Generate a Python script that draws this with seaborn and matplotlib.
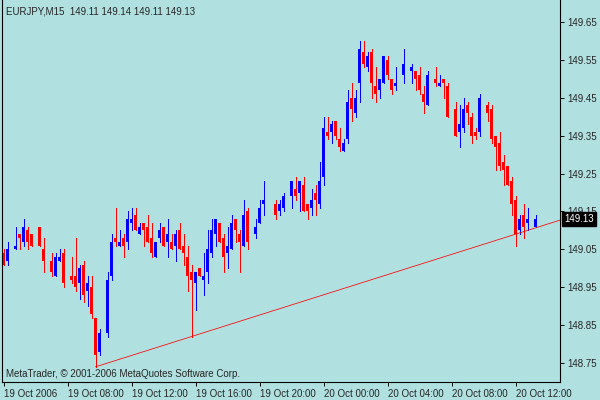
import numpy as np
import pandas as pd
import matplotlib
matplotlib.use("Agg")
import matplotlib.pyplot as plt
import seaborn as sns

# EURJPY M15, one bar every 15 minutes from 19 Oct 2006 04:00
symbol = "EURJPY,M15"
start_time = "2006-10-19 04:00"
nan = np.nan

opens = [149.04, 149.02, nan, 149.05, 149.09, 149.07, 149.10, 149.09, nan, 149.11,
         149.05, nan, 149.02, 148.98, 149.02, 149.04, nan, 148.98, 148.98, 148.96,
         149.01, 148.94, 148.95, 148.87, 148.78, nan, 148.83, 148.98, 149.08, 149.06,
         149.08, 149.07, 149.12, 149.14, 149.09, 149.12, 149.11, 149.08, 149.03, 149.08,
         149.11, 149.07, 149.07, 149.06, 149.10, 149.06, 149.03, 148.99, 148.96, 149.00,
         148.97, 148.99, 149.04, 149.09, 149.12, 149.08, 149.04, 149.05, 149.13, 149.09,
         149.06, 149.15, nan, 149.09, 149.12, 149.17, nan, nan, 149.17, 149.15,
         149.16, nan, 149.19, 149.21, 149.20, 149.22, 149.17, 149.16, 149.20, 149.17,
         149.24, 149.36, 149.36, 149.39, 149.34, 149.31, 149.34, 149.45, 149.41, 149.49,
         149.57, 149.53, 149.57, 149.48, 149.47, 149.49, 149.55, 149.50, 149.48, nan,
         149.51, nan, 149.52, 149.52, 149.51, 149.46, 149.43, nan, 149.50, 149.48,
         149.50, 149.48, nan, 149.42, 149.36, 149.37, 149.43, 149.40, 149.36, 149.36,
         nan, 149.43, 149.42, 149.35, 149.33, 149.28, 149.27, 149.23, 149.18, 149.10,
         149.14, 149.12, nan, 149.11]
highs = [149.05, 149.07, nan, 149.11, 149.09, 149.13, 149.11, 149.09, nan, 149.11,
         149.08, nan, 149.04, 149.04, 149.05, 149.05, nan, 149.03, 149.08, 149.01,
         149.02, 148.98, 148.98, 148.87, 148.84, nan, 148.99, 149.09, 149.16, 149.10,
         149.09, 149.15, 149.16, 149.16, 149.12, 149.12, 149.14, 149.12, 149.07, 149.12,
         149.11, 149.13, 149.09, 149.10, 149.12, 149.09, 149.06, 149.01, 148.99, 149.00,
         149.04, 149.10, 149.13, 149.13, 149.12, 149.09, 149.11, 149.14, 149.13, 149.10,
         149.18, 149.16, nan, 149.13, 149.18, 149.23, nan, nan, 149.18, 149.18,
         149.20, nan, 149.23, 149.24, 149.23, 149.24, 149.17, 149.21, 149.22, 149.28,
         149.40, 149.40, 149.39, 149.39, 149.37, 149.34, 149.47, 149.49, 149.47, 149.60,
         149.60, 149.57, 149.58, 149.53, 149.50, 149.56, 149.56, 149.50, 149.53, nan,
         149.58, nan, 149.54, 149.52, 149.53, 149.48, 149.52, nan, 149.53, 149.51,
         149.50, 149.49, nan, 149.44, 149.43, 149.45, 149.44, 149.41, 149.37, 149.46,
         nan, 149.44, 149.43, 149.35, 149.36, 149.30, 149.27, 149.24, 149.19, 149.14,
         149.17, 149.16, nan, 149.14]
lows = [149.01, 149.01, nan, 149.05, 149.05, 149.06, 149.05, 149.06, nan, 149.06,
        148.99, nan, 148.98, 148.98, 149.02, 148.95, nan, 148.96, 148.94, 148.92,
        148.91, 148.90, 148.87, 148.74, 148.77, nan, 148.82, 148.97, 149.06, 149.06,
        149.03, 149.05, 149.10, 149.10, 149.09, 149.06, 149.07, 149.03, 149.03, 149.07,
        149.06, 149.03, 149.05, 149.02, 149.05, 149.01, 148.94, 148.82, 148.89, 148.98,
        148.93, 148.96, 149.03, 149.06, 149.07, 148.99, 149.00, 149.05, 149.07, 148.99,
        149.06, 149.05, nan, 149.08, 149.12, 149.14, nan, nan, 149.13, 149.14,
        149.15, nan, 149.16, 149.18, 149.15, 149.15, 149.13, 149.14, 149.14, 149.16,
        149.22, 149.34, 149.33, 149.34, 149.31, 149.31, 149.33, 149.39, 149.40, 149.44,
        149.53, 149.52, 149.45, 149.44, 149.45, 149.49, 149.50, 149.46, 149.47, nan,
        149.49, nan, 149.49, 149.47, 149.46, 149.41, 149.43, nan, 149.48, 149.48,
        149.45, 149.40, nan, 149.35, 149.32, 149.36, 149.38, 149.33, 149.34, 149.35,
        nan, 149.39, 149.33, 149.26, 149.26, 149.22, 149.22, 149.14, 149.06, 149.09,
        149.08, 149.10, nan, 149.11]
closes = [149.01, 149.05, nan, 149.06, 149.08, 149.11, 149.07, 149.06, nan, 149.06,
          149.02, nan, 148.99, 149.03, 149.03, 148.96, nan, 148.97, 148.95, 149.00,
          148.93, 148.96, 148.88, 148.77, 148.83, nan, 148.97, 149.07, 149.07, 149.07,
          149.06, 149.13, 149.13, 149.10, 149.11, 149.10, 149.07, 149.04, 149.07, 149.10,
          149.06, 149.09, 149.05, 149.09, 149.05, 149.04, 148.98, 148.97, 148.99, 148.98,
          148.98, 149.05, 149.10, 149.13, 149.07, 149.03, 149.06, 149.12, 149.10, 149.07,
          149.14, 149.07, nan, 149.11, 149.16, 149.18, nan, nan, 149.14, 149.17,
          149.19, nan, 149.23, 149.19, 149.23, 149.15, 149.15, 149.18, 149.18, 149.23,
          149.37, 149.35, 149.38, 149.35, 149.32, 149.33, 149.44, 149.42, 149.45, 149.58,
          149.54, 149.56, 149.49, 149.46, 149.50, 149.56, 149.51, 149.47, 149.49, nan,
          149.54, nan, 149.53, 149.50, 149.47, 149.44, 149.51, nan, 149.49, 149.49,
          149.49, 149.40, nan, 149.35, 149.38, 149.42, 149.41, 149.35, 149.35, 149.45,
          nan, 149.41, 149.34, 149.32, 149.27, 149.26, 149.22, 149.17, 149.09, 149.13,
          149.11, 149.13, nan, 149.13]

price_ticks = [148.75, 148.85, 148.95, 149.05, 149.15, 149.25, 149.35, 149.45, 149.55, 149.65]
label_every = 16          # one time label every 4 hours
trend_bars = [23, 47]     # trend line drawn through the lows of these two bars
copyright = "MetaTrader, \u00a9 2001-2006 MetaQuotes Software Corp."

bg = "#B0E0E0"
sns.set_style("ticks", {"axes.facecolor": bg, "figure.facecolor": bg,
                        "axes.edgecolor": "black"})
plt.rcParams["font.family"] = ["Liberation Sans", "DejaVu Sans"]
plt.rcParams["font.size"] = 7

df = pd.DataFrame({"time": pd.date_range(start_time, periods=len(opens), freq="15min"),
                   "open": opens, "high": highs, "low": lows, "close": closes})
df["bar"] = np.arange(len(df))
candles = df.dropna()
colors = np.where(candles["close"] >= candles["open"], "#0000FF", "#FF0000")

fig = plt.figure(figsize=(6, 4), dpi=100)
ax = fig.add_axes([2 / 600, 18 / 400, 558 / 600, 382 / 400])

# wicks then bodies
ax.vlines(candles["bar"], candles["low"], candles["high"], colors=colors,
          linewidth=0.6, antialiased=False)
ax.bar(candles["bar"], (candles["close"] - candles["open"]).abs(),
       bottom=candles[["open", "close"]].min(axis=1), width=0.75,
       color=colors, linewidth=0, antialiased=False)

x_left, x_right = -0.375, 139.125
ax.set_xlim(x_left, x_right)
ax.set_ylim(148.70, 149.708)

# trend line: ray from first low through the second one up to the right border
b0, b1 = trend_bars
p0, p1 = df.loc[b0, "low"], df.loc[b1, "low"]
slope = (p1 - p0) / (b1 - b0)
trend = pd.DataFrame({"bar": [b0, x_right], "price": [p0, p0 + slope * (x_right - b0)]})
sns.lineplot(data=trend, x="bar", y="price", ax=ax, color="#FF0000", linewidth=0.55)

# axes like the terminal: prices on the right, time labels under
ax.yaxis.tick_right()
ax.set_yticks(price_ticks)
ax.set_yticklabels([f"{p:.2f}" for p in price_ticks])
tick_bars = df["bar"][::label_every]
labels = [df.loc[b, "time"].strftime("%d %b %Y") if k == 0
          else df.loc[b, "time"].strftime("%d %b %H:%M") for k, b in enumerate(tick_bars)]
ax.set_xticks(tick_bars)
ax.set_xticklabels(labels, ha="left")
ax.tick_params(axis="both", direction="out", length=3, width=0.7, color="black",
               labelsize=7, pad=2)
ax.set_xlabel("")
ax.set_ylabel("")
for side in ["left", "right", "bottom"]:
    ax.spines[side].set_linewidth(0.8)
ax.spines["top"].set_visible(False)

last = df.dropna().iloc[-1]
header = f"{symbol}  {last['open']:.2f} {last['high']:.2f} {last['low']:.2f} {last['close']:.2f}"
fig.text(6 / 600, 1 - 11 / 400, header, ha="left", va="center", fontsize=7)
fig.text(6 / 600, 1 - 374 / 400, copyright, ha="left", va="center", fontsize=7)

# current price box on the price scale, drawn over the nearby tick label
ax.annotate(f"{last['close']:.2f}", xy=(1, last["close"]),
            xycoords=("axes fraction", "data"), xytext=(3, 0),
            textcoords="offset points", ha="left", va="center", color="white",
            fontsize=7, zorder=10, annotation_clip=False,
            bbox=dict(boxstyle="square,pad=0.2", fc="black", ec="black"))

fig.savefig("out.png", dpi=100, facecolor=bg)
